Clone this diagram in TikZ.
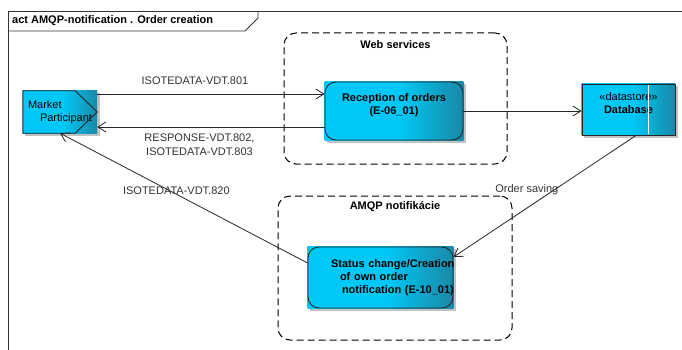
\documentclass[tikz,border=0pt]{standalone}
\usepackage{fontspec}
\setmainfont{Liberation Sans}
\usetikzlibrary{positioning}
\usetikzlibrary{backgrounds,shadows}
\usetikzlibrary{arrows.meta}
\definecolor{eacyan}{RGB}{0,200,246}
\definecolor{eateal}{RGB}{26,136,166}
\pgfdeclarehorizontalshading{eashade}{100bp}{color(0bp)=(eacyan); color(52bp)=(eacyan); color(75bp)=(eateal); color(100bp)=(eateal)}

\begin{document}
\begin{tikzpicture}[x=1pt,y=-1pt,>={Straight Barb[length=8pt,width=10pt]},
  font=\fontsize{11}{13}\selectfont]
\tikzstyle{eafill}=[shading=eashade,
  drop shadow={shadow xshift=2.5pt,shadow yshift=-2.5pt,fill=black!40,opacity=.6}
]
\tikzstyle{activity}=[rectangle,draw=black!85,line width=0.9pt,
  rounded corners=11pt,inner sep=0pt,align=center,font=\fontsize{11}{13}\selectfont\bfseries
]
\tikzstyle{sendbox}=[rectangle,inner sep=0pt,align=left,
  minimum width=74pt,minimum height=42pt
]
\tikzstyle{storebox}=[rectangle,draw=black!85,line width=0.9pt,inner sep=0pt,align=center,
  minimum width=93pt,minimum height=51pt
]
\tikzstyle{groupbox}=[rectangle,draw=black,line width=1pt,
  dash pattern=on 7pt off 4pt,rounded corners=12pt
]
\tikzstyle{grouplabel}=[inner sep=0pt,font=\fontsize{11}{13}\selectfont\bfseries]
\tikzstyle{msg}=[->,draw=black!85,line width=0.8pt]
\tikzstyle{msglabel}=[inner sep=0pt,align=center,text=black!80]

\useasboundingbox (0,0) rectangle (682,350);

\draw[black!80,line width=0.9pt] (8,350) -- (8,11) -- (682,11);
\draw[black!80,line width=0.9pt] (8,31) -- (245,31) -- (258,18) -- (258,11);
\node[grouplabel,anchor=west] (title) at (12,21) {act AMQP-notification . Order creation};

\node[groupbox,minimum width=223pt,minimum height=131pt] (ws) at (395.5,98.5) {};
\node[grouplabel,below=8pt of ws.north] (wsl) {Web services};
\node[groupbox,minimum width=234pt,minimum height=144pt] (amqp) at (395,268) {};
\node[grouplabel,below=6pt of amqp.north] (amqpl) {AMQP notifikácie};

\node[sendbox] (mp) at (60,112) {Market\\\hspace*{12pt}Participant};
\draw[black!85,line width=0.9pt] (mp.north west) -- ([xshift=-22pt]mp.north east)
  -- (mp.east) -- ([xshift=-22pt]mp.south east) -- (mp.south west) -- cycle;
\node[activity,minimum width=138pt,minimum height=58pt] (rec) at (394,111)
  {Reception of orders\\(E-06\_01)\\\mbox{}};
\node[storebox] (db) at (628.5,109.5)
  {«datastore»\\\textbf{Database}\\\mbox{}};
\draw[white,line width=0.8pt] ([xshift=-27pt,yshift=-1.5pt]db.north east)
  -- ([xshift=-27pt,yshift=1.5pt]db.south east);
\node[activity,minimum width=145pt,minimum height=61pt,text width=99pt,align=left] (st) at (380.5,277.5)
  {\mbox{Status change/Creation}\\\hspace*{9pt}of own order\\\mbox{\hspace*{11pt}notification (E-10\_01)}};

\begin{scope}[on background layer]
  \foreach \n in {mp,rec,db,st}
    \path[eafill] (\n.south west) rectangle (\n.north east);
\end{scope}

\draw[msg] ([yshift=18pt]mp.east) -- ([yshift=18pt]mp.east -| rec.west)
  node[msglabel,pos=0.43,above=9pt] {ISOTEDATA-VDT.801};
\draw[msg] ([yshift=-16pt]rec.west) -- ([yshift=-16pt]rec.west -| mp.east)
  node[msglabel,pos=0.55,below=6pt] {RESPONSE-VDT.802,\\[1pt]ISOTEDATA-VDT.803};
\draw[msg] (rec.east) -- (rec.east -| db.west);
\draw[msg] ([xshift=7.5pt]db.south) -- ([yshift=20.5pt]st.east)
  node[msglabel,pos=0.45,xshift=-27pt] {Order saving};
\draw[msg] ([yshift=14.5pt]st.west) -- (mp.south)
  node[msglabel,pos=0.53,yshift=3pt] {ISOTEDATA-VDT.820};
\end{tikzpicture}
\end{document}
